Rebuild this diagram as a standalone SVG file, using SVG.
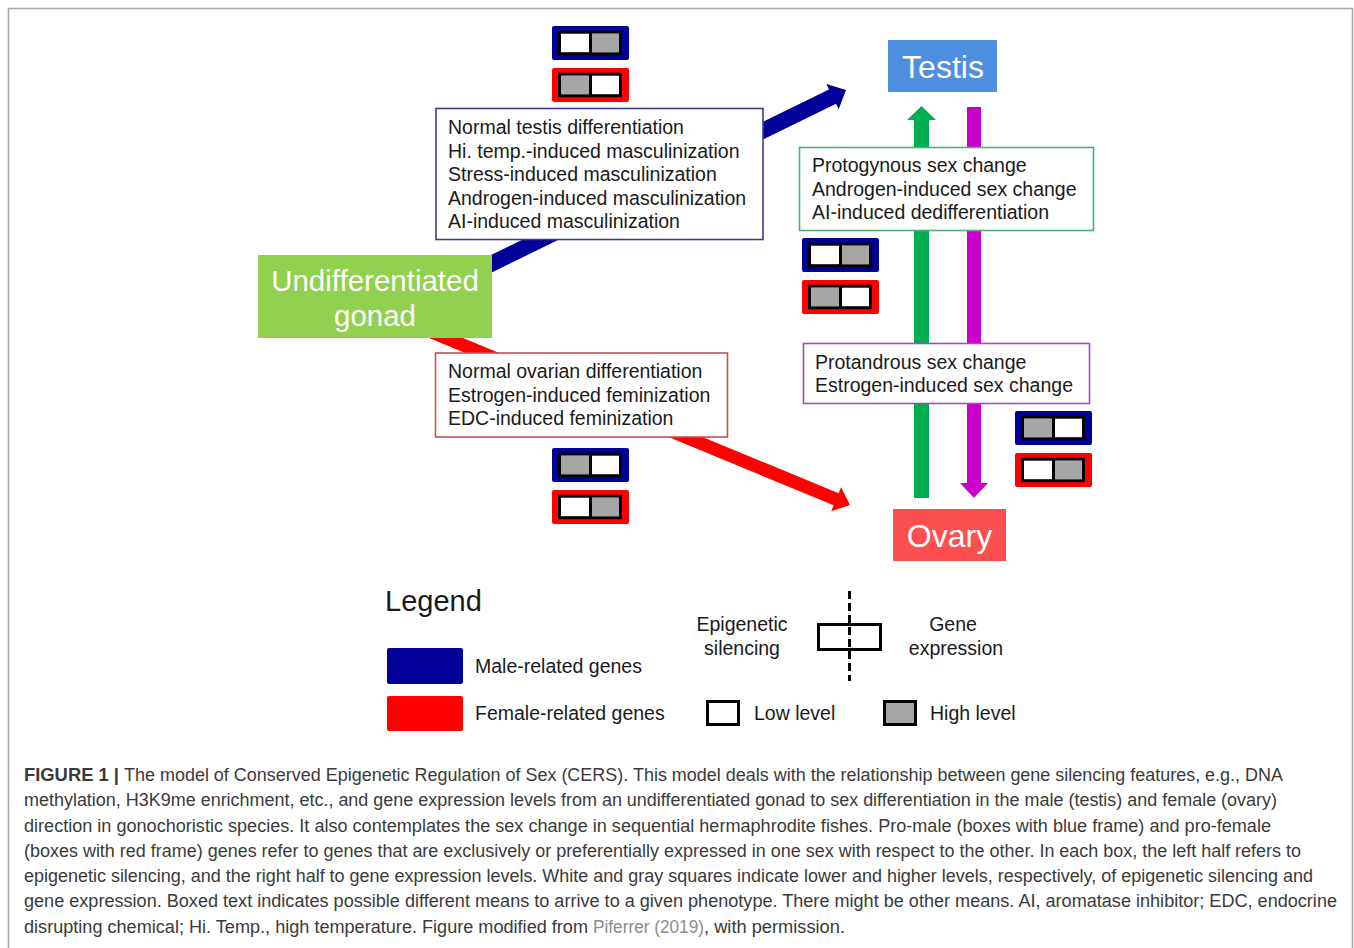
<svg xmlns="http://www.w3.org/2000/svg" xmlns:xlink="http://www.w3.org/1999/xlink" width="1354" height="948" viewBox="0 0 1354 948">
<style>
  text { font-family: "Liberation Sans", Arial, sans-serif; }
  .t { font-size: 19.5px; fill: #1a1a1a; }
  .big { font-size: 32px; fill: #ffffff; text-anchor: middle; }
  .gon { font-size: 29.5px; fill: #ffffff; text-anchor: middle; }
  .cap { font-size: 17.5px; fill: #3a3a3a; }
  .fb { fill: #000099; }
  .fr { fill: #ff0000; }
  .box { fill: #ffffff; stroke-width: 1.6; }
</style>
<defs>
  <g id="wg">
    <rect x="7.5" y="6.2" width="61" height="21.5" fill="#ffffff" stroke="#000" stroke-width="3"/>
    <rect x="39.5" y="7.7" width="27.5" height="18.5" fill="#a6a6a6"/>
    <line x1="38.5" y1="6.2" x2="38.5" y2="27.7" stroke="#000" stroke-width="3"/>
  </g>
  <g id="gw">
    <rect x="7.5" y="6.2" width="61" height="21.5" fill="#ffffff" stroke="#000" stroke-width="3"/>
    <rect x="9" y="7.7" width="28" height="18.5" fill="#a6a6a6"/>
    <line x1="38.5" y1="6.2" x2="38.5" y2="27.7" stroke="#000" stroke-width="3"/>
  </g>
</defs>
<rect x="0" y="0" width="1354" height="948" fill="#ffffff"/>
<path d="M8.5,960 V8.5 H1352.5 V960" fill="none" stroke="#a8a8a8" stroke-width="1.5"/>

<g id="connectors">
  <polygon fill="#000099" points="473.5,281.4 836.1,103.8 838.7,109.2 846,90 826.4,84 829,89.4 466.5,267"/>
  <polygon fill="#ff0000" points="417.5,333.2 833.7,505.3 831.2,511.3 850,505 841.1,487.3 838.6,493.3 422.5,321.2"/>
  <polygon fill="#00b050" points="914,498 914,120 907,120 921.5,106 936,120 929,120 929,498"/>
  <polygon fill="#cc00cc" points="967,107 981,107 981,483 988,483 974,498 960,483 967,483"/>
</g>

<g id="gonad">
  <rect x="258" y="255" width="234" height="83" fill="#92d050"/>
  <text class="gon" x="375" y="291">Undifferentiated</text>
  <text class="gon" x="375" y="326">gonad</text>
</g>

<g id="testis">
  <rect x="888" y="40" width="109" height="52" fill="#4f8fdf"/>
  <text class="big" x="943" y="78">Testis</text>
</g>

<g id="ovary">
  <rect x="893" y="509" width="113" height="52" fill="#fc5050"/>
  <text class="big" x="949.5" y="547">Ovary</text>
</g>

<g id="box-male">
  <rect class="box" x="436" y="108.5" width="327" height="131" stroke="#3c3c88"/>
  <text class="t" x="448" y="134">Normal testis differentiation</text>
  <text class="t" x="448" y="158">Hi. temp.-induced masculinization</text>
  <text class="t" x="448" y="181">Stress-induced masculinization</text>
  <text class="t" x="448" y="205">Androgen-induced masculinization</text>
  <text class="t" x="448" y="228">AI-induced masculinization</text>
</g>

<g id="box-female">
  <rect class="box" x="435.5" y="353" width="292" height="84" stroke="#c85050"/>
  <text class="t" x="448" y="378">Normal ovarian differentiation</text>
  <text class="t" x="448" y="402">Estrogen-induced feminization</text>
  <text class="t" x="448" y="425">EDC-induced feminization</text>
</g>

<g id="box-protogynous">
  <rect class="box" x="799.5" y="147.5" width="294" height="83" stroke="#4caf7c"/>
  <text class="t" x="812" y="172">Protogynous sex change</text>
  <text class="t" x="812" y="196">Androgen-induced sex change</text>
  <text class="t" x="812" y="219">AI-induced dedifferentiation</text>
</g>

<g id="box-protandrous">
  <rect class="box" x="803.5" y="343.5" width="286" height="60" stroke="#a04cc0"/>
  <text class="t" x="815" y="369">Protandrous sex change</text>
  <text class="t" x="815" y="392">Estrogen-induced sex change</text>
</g>

<g id="genes-male-top" transform="translate(552,26)">
  <rect class="fb" width="77" height="34" rx="2"/><use href="#wg" xlink:href="#wg"/>
</g>
<g id="genes-female-top" transform="translate(552,68)">
  <rect class="fr" width="77" height="34" rx="2"/><use href="#gw" xlink:href="#gw"/>
</g>
<g id="genes-male-ov" transform="translate(552,448)">
  <rect class="fb" width="77" height="34" rx="2"/><use href="#gw" xlink:href="#gw"/>
</g>
<g id="genes-female-ov" transform="translate(552,490)">
  <rect class="fr" width="77" height="34" rx="2"/><use href="#wg" xlink:href="#wg"/>
</g>
<g id="genes-male-mid" transform="translate(802,238)">
  <rect class="fb" width="77" height="34" rx="2"/><use href="#wg" xlink:href="#wg"/>
</g>
<g id="genes-female-mid" transform="translate(802,280)">
  <rect class="fr" width="77" height="34" rx="2"/><use href="#gw" xlink:href="#gw"/>
</g>
<g id="genes-male-low" transform="translate(1015,411)">
  <rect class="fb" width="77" height="34" rx="2"/><use href="#gw" xlink:href="#gw"/>
</g>
<g id="genes-female-low" transform="translate(1015,453)">
  <rect class="fr" width="77" height="34" rx="2"/><use href="#wg" xlink:href="#wg"/>
</g>

<g id="legend">
  <text x="385" y="611" style="font-size:29px" fill="#1a1a1a">Legend</text>
  <rect class="fb" x="387" y="648" width="76" height="36" rx="2"/>
  <rect class="fr" x="387" y="696" width="76" height="35" rx="2"/>
  <text class="t" x="475" y="673">Male-related genes</text>
  <text class="t" x="475" y="720">Female-related genes</text>
  <text class="t" x="742" y="631" text-anchor="middle">Epigenetic</text>
  <text class="t" x="742" y="655" text-anchor="middle">silencing</text>
  <rect x="818.5" y="624.5" width="62" height="25" fill="#fff" stroke="#000" stroke-width="3"/>
  <line x1="849.5" y1="591" x2="849.5" y2="681" stroke="#000" stroke-width="3" stroke-dasharray="8,4"/>
  <text class="t" x="953" y="631" text-anchor="middle">Gene</text>
  <text class="t" x="956" y="655" text-anchor="middle">expression</text>
  <rect x="707.5" y="701.5" width="31" height="23" fill="#fff" stroke="#000" stroke-width="3"/>
  <text class="t" x="754" y="720">Low level</text>
  <rect x="884.5" y="701.5" width="31" height="23" fill="#a6a6a6" stroke="#000" stroke-width="3"/>
  <text class="t" x="930" y="720">High level</text>
</g>

<g id="caption">
  <text class="cap" x="24" y="781" font-weight="bold" textLength="95" lengthAdjust="spacingAndGlyphs">FIGURE 1 |</text>
  <text class="cap" x="124" y="781" textLength="1159" lengthAdjust="spacingAndGlyphs">The model of Conserved Epigenetic Regulation of Sex (CERS). This model deals with the relationship between gene silencing features, e.g., DNA</text>
  <text class="cap" x="24" y="806" textLength="1253" lengthAdjust="spacingAndGlyphs">methylation, H3K9me enrichment, etc., and gene expression levels from an undifferentiated gonad to sex differentiation in the male (testis) and female (ovary)</text>
  <text class="cap" x="24" y="832" textLength="1247" lengthAdjust="spacingAndGlyphs">direction in gonochoristic species. It also contemplates the sex change in sequential hermaphrodite fishes. Pro-male (boxes with blue frame) and pro-female</text>
  <text class="cap" x="24" y="857" textLength="1277" lengthAdjust="spacingAndGlyphs">(boxes with red frame) genes refer to genes that are exclusively or preferentially expressed in one sex with respect to the other. In each box, the left half refers to</text>
  <text class="cap" x="24" y="882" textLength="1289" lengthAdjust="spacingAndGlyphs">epigenetic silencing, and the right half to gene expression levels. White and gray squares indicate lower and higher levels, respectively, of epigenetic silencing and</text>
  <text class="cap" x="24" y="907" textLength="1313" lengthAdjust="spacingAndGlyphs">gene expression. Boxed text indicates possible different means to arrive to a given phenotype. There might be other means. AI, aromatase inhibitor; EDC, endocrine</text>
  <text class="cap" x="24" y="933" textLength="564" lengthAdjust="spacingAndGlyphs">disrupting chemical; Hi. Temp., high temperature. Figure modified from</text>
  <text class="cap" x="593" y="933" style="fill:#8c8c8c" textLength="111" lengthAdjust="spacingAndGlyphs">Piferrer (2019)</text>
  <text class="cap" x="704" y="933" textLength="141" lengthAdjust="spacingAndGlyphs">, with permission.</text>
</g>
</svg>
